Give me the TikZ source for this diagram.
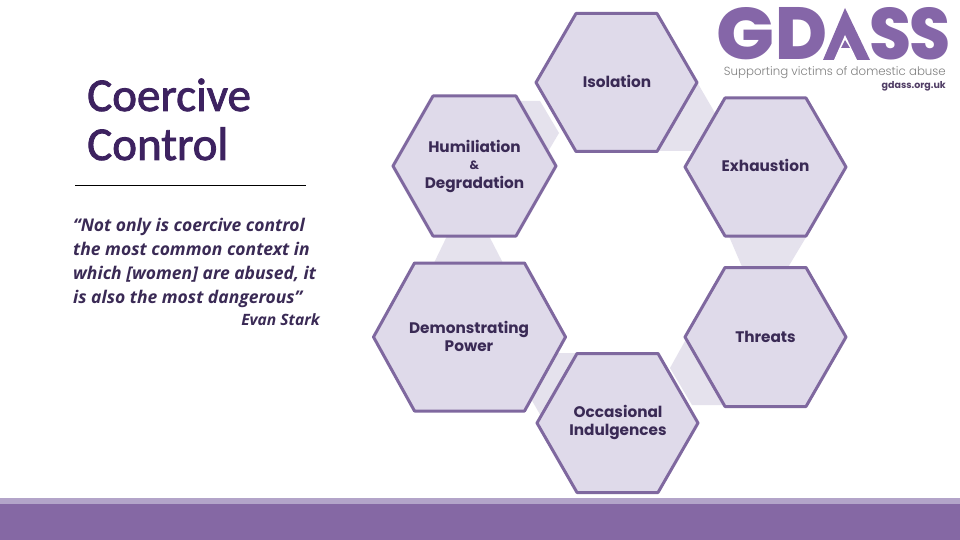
\documentclass[tikz,border=0pt]{standalone}
\usepackage{fontspec}
\usepackage{graphicx}
\setmainfont{Carlito}
\newfontfamily\hexfont{Poppins}
\newfontfamily\heavyfont{Poppins ExtraBold}
\newfontfamily\thinfont{Poppins Light}
\newfontfamily\quotefont{Open Sans}
\newfontfamily\titlefont{Carlito}[FakeBold=1.8]
\definecolor{hexline}{HTML}{7F689F}
\definecolor{hexfill}{HTML}{DFDAEA}
\definecolor{linkfill}{HTML}{E5E2ED}
\definecolor{inktext}{HTML}{3A2A55}
\definecolor{titleink}{HTML}{3D2260}
\definecolor{logoink}{HTML}{8566A8}
\definecolor{bandlight}{HTML}{B3A4C9}
\definecolor{banddark}{HTML}{8568A4}
\tikzset{
  hexbox/.style={draw=hexline,fill=hexfill,line width=3pt,line join=round},
  linkshape/.style={fill=linkfill,draw=none},
  hexlabel/.style={font=\hexfont\bfseries\fontsize{15.3}{18.5}\selectfont,text=inktext,align=center,inner sep=0pt},
  quotetext/.style={font=\quotefont\bfseries\itshape\fontsize{17.5}{24}\selectfont,text=inktext,inner sep=0pt,anchor=base west},
  titletext/.style={font=\titlefont\fontsize{47}{47}\selectfont,text=titleink,inner sep=0pt,anchor=base west},
  logotext/.style={font=\heavyfont,text=logoink,inner sep=0pt,anchor=base west}
}
\newcommand{\hexshape}[6]{% name cx cy halfwidth halfheight inset
  \draw[hexbox] ({#2-#4},#3) -- ({#2-#4+#6},{#3-#5}) -- ({#2+#4-#6},{#3-#5}) -- ({#2+#4},#3) -- ({#2+#4-#6},{#3+#5}) -- ({#2-#4+#6},{#3+#5}) -- cycle;
}
\begin{document}
\begin{tikzpicture}[x=1pt,y=-1pt]
\useasboundingbox (0,0) rectangle (960,540);
\fill[white] (0,0) rectangle (960,540);
% bottom band
\fill[bandlight] (0,498) rectangle (960,504);
\fill[banddark] (0,504) rectangle (960,540);
% links between hexagons
\fill[linkshape] (510,101) -- (540,101) -- (559,133) -- (546,155) -- (530,150) -- cycle;
\fill[linkshape] (690,70) -- (715,113) -- (692,151) -- (650,151) -- cycle;
\fill[linkshape] (448,234) -- (488,234) -- (504,265) -- (433,265) -- cycle;
\fill[linkshape] (728,234) -- (808,234) -- (787,269) -- (743,269) -- cycle;
\fill[linkshape] (690,332) -- (670,368) -- (692,405) -- (730,405) -- cycle;
\fill[linkshape] (557,353) -- (585,353) -- (545,423) -- (527,392) -- cycle;
% hexagons
\hexshape{isolation}{616.5}{82.5}{80.5}{69}{40}
\hexshape{humiliation}{474.5}{166}{81.5}{70}{40}
\hexshape{exhaustion}{765.5}{167}{80.5}{69}{40}
\hexshape{demonstrating}{469.5}{337}{96}{74}{41}
\hexshape{threats}{765.5}{337}{80.5}{69.5}{40}
\hexshape{indulgences}{617.5}{423}{80.5}{69.5}{40}
% hexagon labels
\node[hexlabel] (isoT) at (617,81.5) {Isolation};
\node[hexlabel] (humT) at (474.5,146) {Humiliation};
\node[hexlabel,font=\hexfont\bfseries\fontsize{12}{14}\selectfont] (ampT) at (474.5,165) {\&};
\node[hexlabel] (degT) at (474.5,184) {Degradation};
\node[hexlabel] (exhT) at (765.5,165.5) {Exhaustion};
\node[hexlabel] (demT) at (469,336.5) {Demonstrating\\Power};
\node[hexlabel] (thrT) at (765.5,336.5) {Threats};
\node[hexlabel] (occT) at (618,422.5) {Occasional\\Indulgences};
% title and rule
\node[titletext] (t1) at (87,111) {Coercive};
\node[titletext] (t2) at (87,160) {Control};
\draw[black,line width=0.8pt] (75,185.5) -- (306,185.5);
% quote
\node[quotetext] (q1) at (73,231) {“Not only is coercive control};
\node[quotetext] (q2) at (73,255) {the most common context in};
\node[quotetext] (q3) at (73,279) {which [women] are abused, it};
\node[quotetext] (q4) at (73,303) {is also the most dangerous”};
\node[quotetext,anchor=base east,font=\quotefont\bfseries\itshape\fontsize{15.6}{18}\selectfont] (q5) at (320,325.5) {Evan Stark};
% logo
\node[logotext] (lgG) at (716.5,60) {\resizebox{58pt}{52pt}{G}};
\node[logotext] (lgD) at (775,60) {\resizebox{52pt}{52pt}{D}};
\fill[logoink] (823,60) -- (845,8) -- (870,60) -- cycle;
\fill[white] (834,60) -- (845,35) -- (857,60) -- cycle;
\fill[logoink] (845,40) -- (841,48) -- (850,48) -- cycle;
\node[logotext] (lgS) at (869.5,60) {\resizebox{42pt}{52pt}{S}};
\node[logotext] (lgT) at (909,60) {\resizebox{41pt}{52pt}{S}};
\node[font=\thinfont\fontsize{11.8}{14}\selectfont,text=black!50,inner sep=0pt,anchor=base east] (tag) at (946,76) {Supporting victims of domestic abuse};
\node[font=\hexfont\bfseries\fontsize{9.5}{11}\selectfont,text=logoink!60!black,inner sep=0pt,anchor=base east] (web) at (946,89) {gdass.org.uk};
\end{tikzpicture}
\end{document}
